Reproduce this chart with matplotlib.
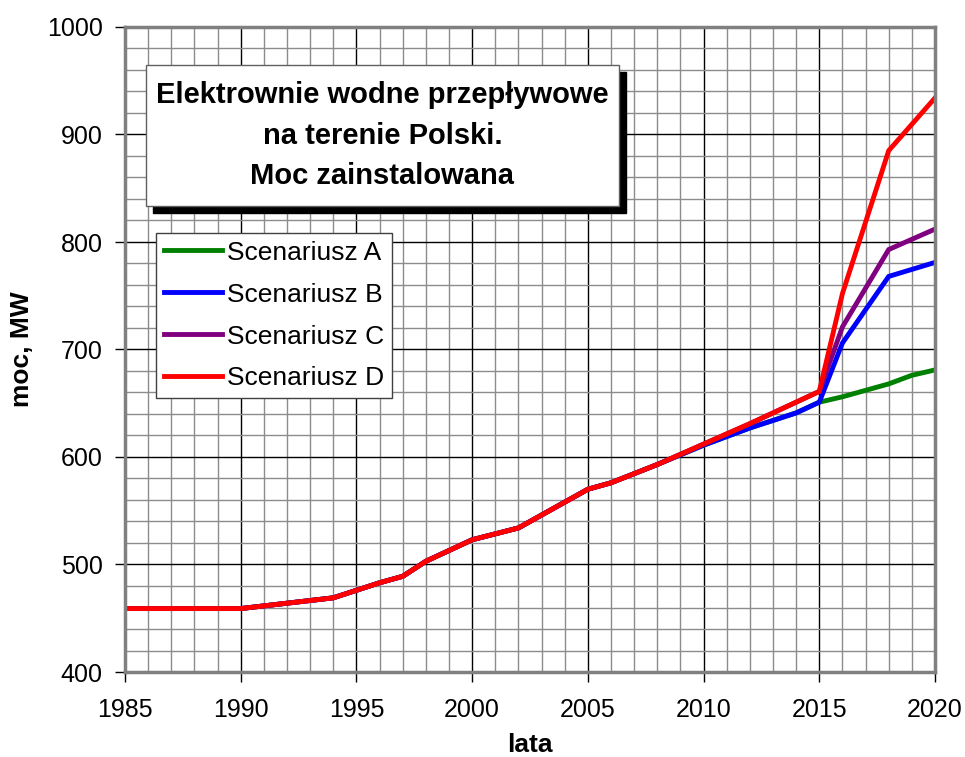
import matplotlib
matplotlib.use("Agg")
import matplotlib.pyplot as plt
from matplotlib.patches import Rectangle
from matplotlib.ticker import MultipleLocator

plt.rcParams['font.family'] = ['Liberation Sans', 'DejaVu Sans']

# values (MW)
years_a = [1985, 1990, 1994, 1995, 1996, 1997, 1998, 2000, 2002, 2005, 2006, 2008, 2010, 2012, 2014, 2015, 2016, 2018, 2019, 2020]
scen_a = [459, 459, 469, 476, 483, 489, 503, 523, 534, 570, 576, 593, 611, 627, 641, 651, 656, 668, 676, 681]

years_b = [1985, 1990, 1994, 1995, 1996, 1997, 1998, 2000, 2002, 2005, 2006, 2008, 2010, 2012, 2014, 2015, 2016, 2018, 2020]
scen_b = [459, 459, 469, 476, 483, 489, 503, 523, 534, 570, 576, 593, 611, 627, 641, 651, 706, 768, 781]

years_c = [1985, 1990, 1994, 1995, 1996, 1997, 1998, 2000, 2002, 2005, 2006, 2008, 2010, 2012, 2014, 2015, 2016, 2018, 2020]
scen_c = [459, 459, 469, 476, 483, 489, 503, 523, 534, 570, 576, 593, 612, 631, 651, 661, 721, 793, 812]

years_d = [1985, 1990, 1994, 1995, 1996, 1997, 1998, 2000, 2002, 2005, 2006, 2008, 2010, 2012, 2014, 2015, 2016, 2018, 2020]
scen_d = [459, 459, 469, 476, 483, 489, 503, 523, 534, 570, 576, 593, 612, 631, 651, 661, 752, 885, 934]

labels = ['Scenariusz A', 'Scenariusz B', 'Scenariusz C', 'Scenariusz D']
colors = ['#008000', '#0000FF', '#800080', '#FF0000']

W, H = 965, 757
fig = plt.figure(figsize=(W / 100, H / 100), dpi=100)
fig.patch.set_facecolor('white')
ax = fig.add_axes([125 / W, 1 - 672 / H, 810 / W, 645 / H])

ax.set_xlim(1985, 2020)
ax.set_ylim(400, 1000)
ax.xaxis.set_major_locator(MultipleLocator(5))
ax.xaxis.set_minor_locator(MultipleLocator(1))
ax.yaxis.set_major_locator(MultipleLocator(100))
ax.yaxis.set_minor_locator(MultipleLocator(20))
ax.grid(which='minor', color='#8c8c8c', lw=1.0)
ax.grid(which='major', color='black', lw=1.0)
ax.set_axisbelow(True)

series = [(years_a, scen_a), (years_b, scen_b), (years_c, scen_c), (years_d, scen_d)]
for (xs, ys), lab, col in zip(series, labels, colors):
    ax.plot(xs, ys, color=col, lw=3.5, label=lab, solid_joinstyle='miter')

for s in ax.spines.values():
    s.set_color('#808080')
    s.set_linewidth(2.5)

ax.tick_params(which='major', direction='out', length=7, width=1, color='black', labelsize=18)
ax.tick_params(axis='x', pad=12)
ax.tick_params(axis='y', pad=9)
ax.tick_params(which='minor', length=0)

ax.set_xlabel('lata', fontsize=19, fontweight='bold', labelpad=8)
ax.set_ylabel('moc, MW', fontsize=19, fontweight='bold', labelpad=9)

leg = ax.legend(loc='upper left', bbox_to_anchor=(155.7 / W, 1 - 232.7 / H), bbox_transform=fig.transFigure,
                fontsize=19, frameon=True, fancybox=False, edgecolor='#404040', framealpha=1,
                handlelength=2.2, handletextpad=0.2, labelspacing=0.68, borderpad=0.3, borderaxespad=0)
leg.get_frame().set_linewidth(1.0)

# title box with shadow
bx0, bx1, by0, by1 = 145.7, 619.3, 65, 206
sh = 7
fig.patches.append(Rectangle(((bx0 + sh) / W, 1 - (by1 + sh) / H), (bx1 - bx0) / W, (by1 - by0) / H,
                             transform=fig.transFigure, facecolor='black', edgecolor='black', zorder=5))
fig.patches.append(Rectangle((bx0 / W, 1 - by1 / H), (bx1 - bx0) / W, (by1 - by0) / H,
                             transform=fig.transFigure, facecolor='white', edgecolor='#606060', lw=1, zorder=6))
fig.text((bx0 + bx1) / 2 / W, 1 - (by0 + by1) / 2 / H,
         'Elektrownie wodne przepływowe\nna terenie Polski.\nMoc zainstalowana',
         ha='center', va='center', fontsize=21, fontweight='bold', linespacing=1.55, zorder=7)

fig.savefig('out.png', dpi=100)
